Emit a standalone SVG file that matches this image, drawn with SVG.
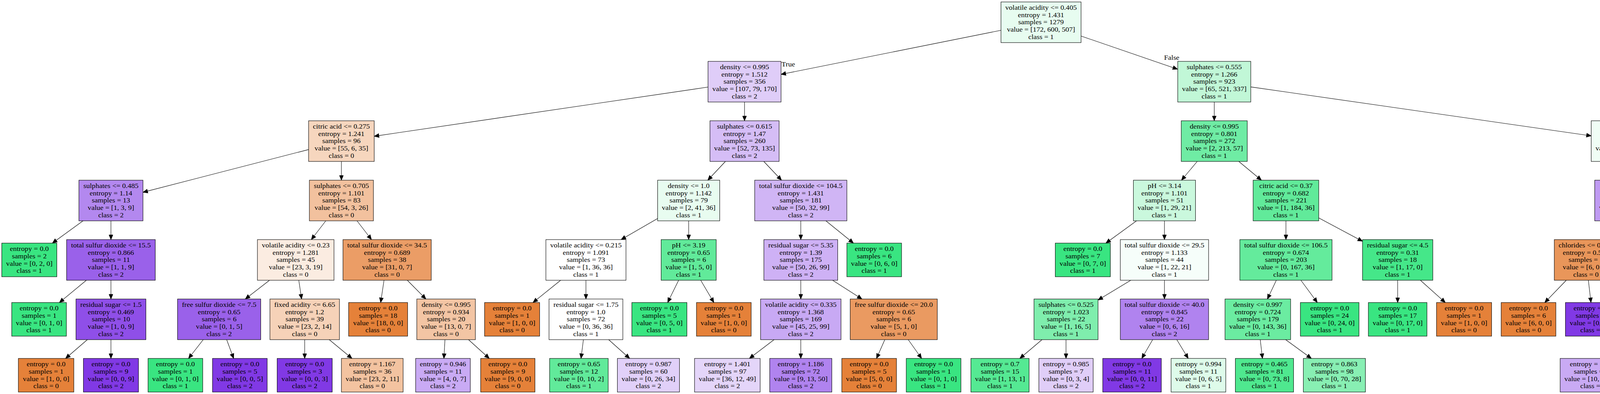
<svg xmlns="http://www.w3.org/2000/svg" width="6095" height="1008" viewBox="0 0 6095 1008">
<style>
.n rect{stroke:#000;stroke-width:1.1}
text{font-family:"Liberation Serif","Times New Roman",serif;font-size:16.3px;text-anchor:middle;fill:#000}
.e line{stroke:#000;stroke-width:1.1;marker-end:url(#ah)}
.o{fill:#e58139}.g{fill:#39e581}.p{fill:#8139e5}.w{fill:#ffffff}
</style>
<defs>
<marker id="ah" markerUnits="userSpaceOnUse" markerWidth="14" markerHeight="12" refX="12" refY="5" orient="auto" overflow="visible"><path d="M0,0L12,5L0,10z" fill="#000" stroke="#000" stroke-width="1"/></marker>
</defs>
<rect width="6095" height="1008" fill="#fff"/>
<g id="edges" class="e">
<line x1="2562.5" y1="77.5" x2="1999.5" y2="190.3"/>
<line x1="2767.5" y1="92.2" x2="3014.5" y2="176.9"/>
<line x1="1812.5" y1="222.8" x2="958" y2="348.6"/>
<line x1="1906" y1="261" x2="1906" y2="309"/>
<line x1="3108.5" y1="261" x2="3108.5" y2="309"/>
<line x1="3202" y1="222.4" x2="4073.5" y2="347.6"/>
<line x1="790" y1="382.6" x2="366" y2="491.9"/>
<line x1="874" y1="413" x2="874" y2="461"/>
<line x1="1857.1" y1="413" x2="1811.9" y2="461"/>
<line x1="1955.3" y1="413" x2="2000.7" y2="461"/>
<line x1="3064.9" y1="413" x2="3024.6" y2="461"/>
<line x1="3171.3" y1="413" x2="3229.2" y2="461"/>
<line x1="4167" y1="413" x2="4167" y2="461"/>
<line x1="4260.5" y1="377.2" x2="4929" y2="493.4"/>
<line x1="212.5" y1="565" x2="134.1" y2="622"/>
<line x1="284" y1="565" x2="284" y2="613"/>
<line x1="834" y1="565" x2="797" y2="613"/>
<line x1="914" y1="565" x2="951" y2="613"/>
<line x1="1683.5" y1="559" x2="1590" y2="613"/>
<line x1="1763" y1="565" x2="1763" y2="613"/>
<line x1="2050" y1="565" x2="2050" y2="613"/>
<line x1="2114.3" y1="565" x2="2184.8" y2="622"/>
<line x1="2909.5" y1="565" x2="2831.1" y2="622"/>
<line x1="2981" y1="565" x2="2981" y2="613"/>
<line x1="3292" y1="565" x2="3292" y2="613"/>
<line x1="3376" y1="557.6" x2="3488" y2="617.2"/>
<line x1="4130.4" y1="565" x2="4096.6" y2="613"/>
<line x1="4204.3" y1="565" x2="4238.7" y2="613"/>
<line x1="5042" y1="565" x2="5042" y2="613"/>
<line x1="5155" y1="544.6" x2="5468.5" y2="632.2"/>
<line x1="221.1" y1="717" x2="152.1" y2="774"/>
<line x1="284" y1="717" x2="284" y2="765"/>
<line x1="690" y1="717" x2="628" y2="765"/>
<line x1="764.9" y1="717" x2="772.1" y2="765"/>
<line x1="983.1" y1="717" x2="974.5" y2="774"/>
<line x1="1042.7" y1="717" x2="1090.3" y2="765"/>
<line x1="1435.3" y1="717" x2="1364.5" y2="774"/>
<line x1="1500" y1="717" x2="1500" y2="765"/>
<line x1="1737.3" y1="717" x2="1709.2" y2="774"/>
<line x1="1793.8" y1="717" x2="1827.5" y2="774"/>
<line x1="2050" y1="717" x2="2050" y2="765"/>
<line x1="2131.4" y1="717" x2="2206.6" y2="765"/>
<line x1="2894.8" y1="717" x2="2811" y2="767.6"/>
<line x1="2981" y1="717" x2="2981" y2="765"/>
<line x1="3267.4" y1="717" x2="3244.6" y2="765"/>
<line x1="3330.3" y1="717" x2="3372.3" y2="774"/>
<line x1="3578" y1="717" x2="3578" y2="774"/>
<line x1="3636.2" y1="717" x2="3699.9" y2="774"/>
<line x1="4009.7" y1="717" x2="3954.6" y2="774"/>
<line x1="4066.2" y1="717" x2="4072.9" y2="774"/>
<line x1="4269.5" y1="717" x2="4263.5" y2="765"/>
<line x1="4334.2" y1="717" x2="4387.8" y2="765"/>
<line x1="5008.1" y1="717" x2="4976.9" y2="765"/>
<line x1="5075.9" y1="717" x2="5107.1" y2="765"/>
<line x1="5586" y1="717" x2="5586" y2="765"/>
<line x1="5676.3" y1="717" x2="5772.5" y2="772.4"/>
<line x1="223.6" y1="869" x2="167.9" y2="917"/>
<line x1="284" y1="869" x2="284" y2="917"/>
<line x1="520.3" y1="869" x2="482.7" y2="917"/>
<line x1="580.3" y1="869" x2="598.1" y2="917"/>
<line x1="780" y1="869" x2="780" y2="917"/>
<line x1="842.9" y1="869" x2="901" y2="917"/>
<line x1="1139.1" y1="869" x2="1136.4" y2="917"/>
<line x1="1199.4" y1="869" x2="1252.5" y2="917"/>
<line x1="1493.5" y1="869" x2="1487.4" y2="917"/>
<line x1="1558.2" y1="869" x2="1611.9" y2="917"/>
<line x1="1981.6" y1="869" x2="1918.5" y2="917"/>
<line x1="2050" y1="869" x2="2050" y2="917"/>
<line x1="2265.1" y1="869" x2="2243.9" y2="917"/>
<line x1="2325.1" y1="869" x2="2359.3" y2="917"/>
<line x1="2667.5" y1="869" x2="2610.8" y2="917"/>
<line x1="2729" y1="869" x2="2729" y2="917"/>
<line x1="2950.8" y1="869" x2="2923" y2="917"/>
<line x1="3012.6" y1="869" x2="3041.8" y2="917"/>
<line x1="3226.2" y1="869" x2="3231.9" y2="917"/>
<line x1="3291.3" y1="869" x2="3357.1" y2="917"/>
<line x1="4191.9" y1="869" x2="4131.8" y2="917"/>
<line x1="4257" y1="869" x2="4257" y2="917"/>
<line x1="4437.3" y1="869" x2="4429.2" y2="917"/>
<line x1="4498.7" y1="869" x2="4547.4" y2="917"/>
<line x1="4878.6" y1="869" x2="4819.2" y2="917"/>
<line x1="4945.5" y1="869" x2="4947.9" y2="917"/>
<line x1="5138.5" y1="869" x2="5136.1" y2="917"/>
<line x1="5205.4" y1="869" x2="5264.8" y2="917"/>
<line x1="5556.9" y1="869" x2="5530.1" y2="917"/>
<line x1="5620.5" y1="869" x2="5652.4" y2="917"/>
<line x1="5850" y1="869" x2="5850" y2="917"/>
<line x1="5911.4" y1="869" x2="5968.2" y2="917"/>
<text transform="translate(2018,169.5) scale(1.14,1)">True</text>
<text transform="translate(2999.5,153) scale(1.14,1)">False</text>
</g>
<g id="n0" class="n" transform="translate(2665,57)"><rect x="-102.5" y="-52" width="205" height="104" fill="#e7fcf0"/><text transform="scale(1.14,1)"><tspan x="0" y="-32">volatile acidity &lt;= 0.405</tspan><tspan x="0" dy="18.7">entropy = 1.431</tspan><tspan x="0" dy="18.7">samples = 1279</tspan><tspan x="0" dy="18.7">value = [172, 600, 507]</tspan><tspan x="0" dy="18.7">class = 1</tspan></text></g>
<g id="n1" class="n" transform="translate(1906,209)"><rect x="-93.5" y="-52" width="187" height="104" fill="#dfcdf8"/><text transform="scale(1.14,1)"><tspan x="0" y="-32">density &lt;= 0.995</tspan><tspan x="0" dy="18.7">entropy = 1.512</tspan><tspan x="0" dy="18.7">samples = 356</tspan><tspan x="0" dy="18.7">value = [107, 79, 170]</tspan><tspan x="0" dy="18.7">class = 2</tspan></text></g>
<g id="n2" class="n" transform="translate(3108.5,209)"><rect x="-93.5" y="-52" width="187" height="104" fill="#c1f7d7"/><text transform="scale(1.14,1)"><tspan x="0" y="-32">sulphates &lt;= 0.555</tspan><tspan x="0" dy="18.7">entropy = 1.266</tspan><tspan x="0" dy="18.7">samples = 923</tspan><tspan x="0" dy="18.7">value = [65, 521, 337]</tspan><tspan x="0" dy="18.7">class = 1</tspan></text></g>
<g id="n3" class="n" transform="translate(874,361)"><rect x="-84" y="-52" width="168" height="104" fill="#f6d6be"/><text transform="scale(1.14,1)"><tspan x="0" y="-32">citric acid &lt;= 0.275</tspan><tspan x="0" dy="18.7">entropy = 1.241</tspan><tspan x="0" dy="18.7">samples = 96</tspan><tspan x="0" dy="18.7">value = [55, 6, 35]</tspan><tspan x="0" dy="18.7">class = 0</tspan></text></g>
<g id="n4" class="n" transform="translate(1906,361)"><rect x="-88.5" y="-52" width="177" height="104" fill="#d5bdf6"/><text transform="scale(1.14,1)"><tspan x="0" y="-32">sulphates &lt;= 0.615</tspan><tspan x="0" dy="18.7">entropy = 1.47</tspan><tspan x="0" dy="18.7">samples = 260</tspan><tspan x="0" dy="18.7">value = [52, 73, 135]</tspan><tspan x="0" dy="18.7">class = 2</tspan></text></g>
<g id="n5" class="n" transform="translate(3108.5,361)"><rect x="-84.5" y="-52" width="169" height="104" fill="#6feca4"/><text transform="scale(1.14,1)"><tspan x="0" y="-32">density &lt;= 0.995</tspan><tspan x="0" dy="18.7">entropy = 0.801</tspan><tspan x="0" dy="18.7">samples = 272</tspan><tspan x="0" dy="18.7">value = [2, 213, 57]</tspan><tspan x="0" dy="18.7">class = 1</tspan></text></g>
<g id="n6" class="n" transform="translate(4167,361)"><rect x="-93.5" y="-52" width="187" height="104" fill="#f0fdf5"/><text transform="scale(1.14,1)"><tspan x="0" y="-32">density &lt;= 0.996</tspan><tspan x="0" dy="18.7">entropy = 1.36</tspan><tspan x="0" dy="18.7">samples = 651</tspan><tspan x="0" dy="18.7">value = [63, 308, 280]</tspan><tspan x="0" dy="18.7">class = 1</tspan></text></g>
<g id="n7" class="n" transform="translate(284,513)"><rect x="-82" y="-52" width="164" height="104" fill="#b388ef"/><text transform="scale(1.14,1)"><tspan x="0" y="-32">sulphates &lt;= 0.485</tspan><tspan x="0" dy="18.7">entropy = 1.14</tspan><tspan x="0" dy="18.7">samples = 13</tspan><tspan x="0" dy="18.7">value = [1, 3, 9]</tspan><tspan x="0" dy="18.7">class = 2</tspan></text></g>
<g id="n8" class="n" transform="translate(874,513)"><rect x="-82" y="-52" width="164" height="104" fill="#f2c19e"/><text transform="scale(1.14,1)"><tspan x="0" y="-32">sulphates &lt;= 0.705</tspan><tspan x="0" dy="18.7">entropy = 1.101</tspan><tspan x="0" dy="18.7">samples = 83</tspan><tspan x="0" dy="18.7">value = [54, 3, 26]</tspan><tspan x="0" dy="18.7">class = 0</tspan></text></g>
<g id="n9" class="n" transform="translate(1763,513)"><rect x="-79.5" y="-52" width="159" height="104" fill="#e8fcf0"/><text transform="scale(1.14,1)"><tspan x="0" y="-32">density &lt;= 1.0</tspan><tspan x="0" dy="18.7">entropy = 1.142</tspan><tspan x="0" dy="18.7">samples = 79</tspan><tspan x="0" dy="18.7">value = [2, 41, 36]</tspan><tspan x="0" dy="18.7">class = 1</tspan></text></g>
<g id="n10" class="n" transform="translate(2050,513)"><rect x="-118" y="-52" width="236" height="104" fill="#d0b5f5"/><text transform="scale(1.14,1)"><tspan x="0" y="-32">total sulfur dioxide &lt;= 104.5</tspan><tspan x="0" dy="18.7">entropy = 1.431</tspan><tspan x="0" dy="18.7">samples = 181</tspan><tspan x="0" dy="18.7">value = [50, 32, 99]</tspan><tspan x="0" dy="18.7">class = 2</tspan></text></g>
<g id="n11" class="n" transform="translate(2981,513)"><rect x="-79.5" y="-52" width="159" height="104" fill="#caf8dd"/><text transform="scale(1.14,1)"><tspan x="0" y="-32">pH &lt;= 3.14</tspan><tspan x="0" dy="18.7">entropy = 1.101</tspan><tspan x="0" dy="18.7">samples = 51</tspan><tspan x="0" dy="18.7">value = [1, 29, 21]</tspan><tspan x="0" dy="18.7">class = 1</tspan></text></g>
<g id="n12" class="n" transform="translate(3292,513)"><rect x="-84" y="-52" width="168" height="104" fill="#61ea9a"/><text transform="scale(1.14,1)"><tspan x="0" y="-32">citric acid &lt;= 0.37</tspan><tspan x="0" dy="18.7">entropy = 0.682</tspan><tspan x="0" dy="18.7">samples = 221</tspan><tspan x="0" dy="18.7">value = [1, 184, 36]</tspan><tspan x="0" dy="18.7">class = 1</tspan></text></g>
<g id="n13" class="n" transform="translate(4167,513)"><rect x="-84.5" y="-52" width="169" height="104" fill="#bf9af2"/><text transform="scale(1.14,1)"><tspan x="0" y="-32">density &lt;= 0.992</tspan><tspan x="0" dy="18.7">entropy = 1.347</tspan><tspan x="0" dy="18.7">samples = 137</tspan><tspan x="0" dy="18.7">value = [24, 29, 84]</tspan><tspan x="0" dy="18.7">class = 2</tspan></text></g>
<g id="n14" class="n" transform="translate(5042,513)"><rect x="-113" y="-52" width="226" height="104" fill="#cbf8de"/><text transform="scale(1.14,1)"><tspan x="0" y="-32">total sulfur dioxide &lt;= 81.5</tspan><tspan x="0" dy="18.7">entropy = 1.291</tspan><tspan x="0" dy="18.7">samples = 514</tspan><tspan x="0" dy="18.7">value = [39, 279, 196]</tspan><tspan x="0" dy="18.7">class = 1</tspan></text></g>
<g id="n15" class="n" transform="translate(75,665)"><rect x="-70.5" y="-43" width="141" height="86" class="g"/><text transform="scale(1.14,1)"><tspan x="0" y="-22.7">entropy = 0.0</tspan><tspan x="0" dy="18.7">samples = 2</tspan><tspan x="0" dy="18.7">value = [0, 2, 0]</tspan><tspan x="0" dy="18.7">class = 1</tspan></text></g>
<g id="n16" class="n" transform="translate(284,665)"><rect x="-113.5" y="-52" width="227" height="104" fill="#9a61ea"/><text transform="scale(1.14,1)"><tspan x="0" y="-32">total sulfur dioxide &lt;= 15.5</tspan><tspan x="0" dy="18.7">entropy = 0.866</tspan><tspan x="0" dy="18.7">samples = 11</tspan><tspan x="0" dy="18.7">value = [1, 1, 9]</tspan><tspan x="0" dy="18.7">class = 2</tspan></text></g>
<g id="n17" class="n" transform="translate(757,665)"><rect x="-98" y="-52" width="196" height="104" fill="#fbece1"/><text transform="scale(1.14,1)"><tspan x="0" y="-32">volatile acidity &lt;= 0.23</tspan><tspan x="0" dy="18.7">entropy = 1.281</tspan><tspan x="0" dy="18.7">samples = 45</tspan><tspan x="0" dy="18.7">value = [23, 3, 19]</tspan><tspan x="0" dy="18.7">class = 0</tspan></text></g>
<g id="n18" class="n" transform="translate(991,665)"><rect x="-113" y="-52" width="226" height="104" fill="#eb9d66"/><text transform="scale(1.14,1)"><tspan x="0" y="-32">total sulfur dioxide &lt;= 34.5</tspan><tspan x="0" dy="18.7">entropy = 0.689</tspan><tspan x="0" dy="18.7">samples = 38</tspan><tspan x="0" dy="18.7">value = [31, 0, 7]</tspan><tspan x="0" dy="18.7">class = 0</tspan></text></g>
<g id="n19" class="n" transform="translate(1500,665)"><rect x="-102.5" y="-52" width="205" height="104" class="w"/><text transform="scale(1.14,1)"><tspan x="0" y="-32">volatile acidity &lt;= 0.215</tspan><tspan x="0" dy="18.7">entropy = 1.091</tspan><tspan x="0" dy="18.7">samples = 73</tspan><tspan x="0" dy="18.7">value = [1, 36, 36]</tspan><tspan x="0" dy="18.7">class = 1</tspan></text></g>
<g id="n20" class="n" transform="translate(1763,665)"><rect x="-70.5" y="-52" width="141" height="104" fill="#61ea9a"/><text transform="scale(1.14,1)"><tspan x="0" y="-32">pH &lt;= 3.19</tspan><tspan x="0" dy="18.7">entropy = 0.65</tspan><tspan x="0" dy="18.7">samples = 6</tspan><tspan x="0" dy="18.7">value = [1, 5, 0]</tspan><tspan x="0" dy="18.7">class = 1</tspan></text></g>
<g id="n21" class="n" transform="translate(2050,665)"><rect x="-94.5" y="-52" width="189" height="104" fill="#ceb1f5"/><text transform="scale(1.14,1)"><tspan x="0" y="-32">residual sugar &lt;= 5.35</tspan><tspan x="0" dy="18.7">entropy = 1.39</tspan><tspan x="0" dy="18.7">samples = 175</tspan><tspan x="0" dy="18.7">value = [50, 26, 99]</tspan><tspan x="0" dy="18.7">class = 2</tspan></text></g>
<g id="n22" class="n" transform="translate(2238,665)"><rect x="-70" y="-43" width="140" height="86" class="g"/><text transform="scale(1.14,1)"><tspan x="0" y="-22.7">entropy = 0.0</tspan><tspan x="0" dy="18.7">samples = 6</tspan><tspan x="0" dy="18.7">value = [0, 6, 0]</tspan><tspan x="0" dy="18.7">class = 1</tspan></text></g>
<g id="n23" class="n" transform="translate(2772,665)"><rect x="-70.5" y="-43" width="141" height="86" class="g"/><text transform="scale(1.14,1)"><tspan x="0" y="-22.7">entropy = 0.0</tspan><tspan x="0" dy="18.7">samples = 7</tspan><tspan x="0" dy="18.7">value = [0, 7, 0]</tspan><tspan x="0" dy="18.7">class = 1</tspan></text></g>
<g id="n24" class="n" transform="translate(2981,665)"><rect x="-113" y="-52" width="226" height="104" fill="#f6fefa"/><text transform="scale(1.14,1)"><tspan x="0" y="-32">total sulfur dioxide &lt;= 29.5</tspan><tspan x="0" dy="18.7">entropy = 1.133</tspan><tspan x="0" dy="18.7">samples = 44</tspan><tspan x="0" dy="18.7">value = [1, 22, 21]</tspan><tspan x="0" dy="18.7">class = 1</tspan></text></g>
<g id="n25" class="n" transform="translate(3292,665)"><rect x="-118" y="-52" width="236" height="104" fill="#64eb9c"/><text transform="scale(1.14,1)"><tspan x="0" y="-32">total sulfur dioxide &lt;= 106.5</tspan><tspan x="0" dy="18.7">entropy = 0.674</tspan><tspan x="0" dy="18.7">samples = 203</tspan><tspan x="0" dy="18.7">value = [0, 167, 36]</tspan><tspan x="0" dy="18.7">class = 1</tspan></text></g>
<g id="n26" class="n" transform="translate(3578,665)"><rect x="-90" y="-52" width="180" height="104" fill="#45e789"/><text transform="scale(1.14,1)"><tspan x="0" y="-32">residual sugar &lt;= 4.5</tspan><tspan x="0" dy="18.7">entropy = 0.31</tspan><tspan x="0" dy="18.7">samples = 18</tspan><tspan x="0" dy="18.7">value = [1, 17, 0]</tspan><tspan x="0" dy="18.7">class = 1</tspan></text></g>
<g id="n27" class="n" transform="translate(4060,665)"><rect x="-81" y="-52" width="162" height="104" fill="#e9965a"/><text transform="scale(1.14,1)"><tspan x="0" y="-32">chlorides &lt;= 0.061</tspan><tspan x="0" dy="18.7">entropy = 0.592</tspan><tspan x="0" dy="18.7">samples = 7</tspan><tspan x="0" dy="18.7">value = [6, 0, 1]</tspan><tspan x="0" dy="18.7">class = 0</tspan></text></g>
<g id="n28" class="n" transform="translate(4276,665)"><rect x="-111" y="-52" width="222" height="104" fill="#bc95f1"/><text transform="scale(1.14,1)"><tspan x="0" y="-32">free sulfur dioxide &lt;= 14.5</tspan><tspan x="0" dy="18.7">entropy = 1.291</tspan><tspan x="0" dy="18.7">samples = 130</tspan><tspan x="0" dy="18.7">value = [18, 29, 83]</tspan><tspan x="0" dy="18.7">class = 2</tspan></text></g>
<g id="n29" class="n" transform="translate(5042,665)"><rect x="-94.5" y="-52" width="189" height="104" fill="#ecfdf3"/><text transform="scale(1.14,1)"><tspan x="0" y="-32">residual sugar &lt;= 2.35</tspan><tspan x="0" dy="18.7">entropy = 1.352</tspan><tspan x="0" dy="18.7">samples = 418</tspan><tspan x="0" dy="18.7">value = [39, 201, 178]</tspan><tspan x="0" dy="18.7">class = 1</tspan></text></g>
<g id="n30" class="n" transform="translate(5586,665)"><rect x="-117.5" y="-52" width="235" height="104" fill="#67eb9e"/><text transform="scale(1.14,1)"><tspan x="0" y="-32">total sulfur dioxide &lt;= 105.5</tspan><tspan x="0" dy="18.7">entropy = 0.696</tspan><tspan x="0" dy="18.7">samples = 96</tspan><tspan x="0" dy="18.7">value = [0, 78, 18]</tspan><tspan x="0" dy="18.7">class = 1</tspan></text></g>
<g id="n31" class="n" transform="translate(100,817)"><rect x="-70" y="-43" width="140" height="86" class="g"/><text transform="scale(1.14,1)"><tspan x="0" y="-22.7">entropy = 0.0</tspan><tspan x="0" dy="18.7">samples = 1</tspan><tspan x="0" dy="18.7">value = [0, 1, 0]</tspan><tspan x="0" dy="18.7">class = 1</tspan></text></g>
<g id="n32" class="n" transform="translate(284,817)"><rect x="-89.5" y="-52" width="179" height="104" fill="#8f4fe8"/><text transform="scale(1.14,1)"><tspan x="0" y="-32">residual sugar &lt;= 1.5</tspan><tspan x="0" dy="18.7">entropy = 0.469</tspan><tspan x="0" dy="18.7">samples = 10</tspan><tspan x="0" dy="18.7">value = [1, 0, 9]</tspan><tspan x="0" dy="18.7">class = 2</tspan></text></g>
<g id="n33" class="n" transform="translate(561,817)"><rect x="-106.5" y="-52" width="213" height="104" fill="#9a61ea"/><text transform="scale(1.14,1)"><tspan x="0" y="-32">free sulfur dioxide &lt;= 7.5</tspan><tspan x="0" dy="18.7">entropy = 0.65</tspan><tspan x="0" dy="18.7">samples = 6</tspan><tspan x="0" dy="18.7">value = [0, 1, 5]</tspan><tspan x="0" dy="18.7">class = 2</tspan></text></g>
<g id="n34" class="n" transform="translate(780,817)"><rect x="-89" y="-52" width="178" height="104" fill="#f6d2b8"/><text transform="scale(1.14,1)"><tspan x="0" y="-32">fixed acidity &lt;= 6.65</tspan><tspan x="0" dy="18.7">entropy = 1.2</tspan><tspan x="0" dy="18.7">samples = 39</tspan><tspan x="0" dy="18.7">value = [23, 2, 14]</tspan><tspan x="0" dy="18.7">class = 0</tspan></text></g>
<g id="n35" class="n" transform="translate(968,817)"><rect x="-75.5" y="-43" width="151" height="86" class="o"/><text transform="scale(1.14,1)"><tspan x="0" y="-22.7">entropy = 0.0</tspan><tspan x="0" dy="18.7">samples = 18</tspan><tspan x="0" dy="18.7">value = [18, 0, 0]</tspan><tspan x="0" dy="18.7">class = 0</tspan></text></g>
<g id="n36" class="n" transform="translate(1142,817)"><rect x="-75" y="-52" width="150" height="104" fill="#f3c5a4"/><text transform="scale(1.14,1)"><tspan x="0" y="-32">density &lt;= 0.995</tspan><tspan x="0" dy="18.7">entropy = 0.934</tspan><tspan x="0" dy="18.7">samples = 20</tspan><tspan x="0" dy="18.7">value = [13, 0, 7]</tspan><tspan x="0" dy="18.7">class = 0</tspan></text></g>
<g id="n37" class="n" transform="translate(1311,817)"><rect x="-70.5" y="-43" width="141" height="86" class="o"/><text transform="scale(1.14,1)"><tspan x="0" y="-22.7">entropy = 0.0</tspan><tspan x="0" dy="18.7">samples = 1</tspan><tspan x="0" dy="18.7">value = [1, 0, 0]</tspan><tspan x="0" dy="18.7">class = 0</tspan></text></g>
<g id="n38" class="n" transform="translate(1500,817)"><rect x="-94.5" y="-52" width="189" height="104" class="w"/><text transform="scale(1.14,1)"><tspan x="0" y="-32">residual sugar &lt;= 1.75</tspan><tspan x="0" dy="18.7">entropy = 1.0</tspan><tspan x="0" dy="18.7">samples = 72</tspan><tspan x="0" dy="18.7">value = [0, 36, 36]</tspan><tspan x="0" dy="18.7">class = 1</tspan></text></g>
<g id="n39" class="n" transform="translate(1688,817)"><rect x="-70.5" y="-43" width="141" height="86" class="g"/><text transform="scale(1.14,1)"><tspan x="0" y="-22.7">entropy = 0.0</tspan><tspan x="0" dy="18.7">samples = 5</tspan><tspan x="0" dy="18.7">value = [0, 5, 0]</tspan><tspan x="0" dy="18.7">class = 1</tspan></text></g>
<g id="n40" class="n" transform="translate(1853,817)"><rect x="-70" y="-43" width="140" height="86" class="o"/><text transform="scale(1.14,1)"><tspan x="0" y="-22.7">entropy = 0.0</tspan><tspan x="0" dy="18.7">samples = 1</tspan><tspan x="0" dy="18.7">value = [1, 0, 0]</tspan><tspan x="0" dy="18.7">class = 0</tspan></text></g>
<g id="n41" class="n" transform="translate(2050,817)"><rect x="-103" y="-52" width="206" height="104" fill="#c8a9f4"/><text transform="scale(1.14,1)"><tspan x="0" y="-32">volatile acidity &lt;= 0.335</tspan><tspan x="0" dy="18.7">entropy = 1.368</tspan><tspan x="0" dy="18.7">samples = 169</tspan><tspan x="0" dy="18.7">value = [45, 25, 99]</tspan><tspan x="0" dy="18.7">class = 2</tspan></text></g>
<g id="n42" class="n" transform="translate(2288,817)"><rect x="-111.5" y="-52" width="223" height="104" fill="#ea9a61"/><text transform="scale(1.14,1)"><tspan x="0" y="-32">free sulfur dioxide &lt;= 20.0</tspan><tspan x="0" dy="18.7">entropy = 0.65</tspan><tspan x="0" dy="18.7">samples = 6</tspan><tspan x="0" dy="18.7">value = [5, 1, 0]</tspan><tspan x="0" dy="18.7">class = 0</tspan></text></g>
<g id="n43" class="n" transform="translate(2729,817)"><rect x="-82" y="-52" width="164" height="104" fill="#7feead"/><text transform="scale(1.14,1)"><tspan x="0" y="-32">sulphates &lt;= 0.525</tspan><tspan x="0" dy="18.7">entropy = 1.023</tspan><tspan x="0" dy="18.7">samples = 22</tspan><tspan x="0" dy="18.7">value = [1, 16, 5]</tspan><tspan x="0" dy="18.7">class = 1</tspan></text></g>
<g id="n44" class="n" transform="translate(2981,817)"><rect x="-113" y="-52" width="226" height="104" fill="#b083ef"/><text transform="scale(1.14,1)"><tspan x="0" y="-32">total sulfur dioxide &lt;= 40.0</tspan><tspan x="0" dy="18.7">entropy = 0.845</tspan><tspan x="0" dy="18.7">samples = 22</tspan><tspan x="0" dy="18.7">value = [0, 6, 16]</tspan><tspan x="0" dy="18.7">class = 2</tspan></text></g>
<g id="n45" class="n" transform="translate(3220,817)"><rect x="-84" y="-52" width="168" height="104" fill="#6beca1"/><text transform="scale(1.14,1)"><tspan x="0" y="-32">density &lt;= 0.997</tspan><tspan x="0" dy="18.7">entropy = 0.724</tspan><tspan x="0" dy="18.7">samples = 179</tspan><tspan x="0" dy="18.7">value = [0, 143, 36]</tspan><tspan x="0" dy="18.7">class = 1</tspan></text></g>
<g id="n46" class="n" transform="translate(3404,817)"><rect x="-75" y="-43" width="150" height="86" class="g"/><text transform="scale(1.14,1)"><tspan x="0" y="-22.7">entropy = 0.0</tspan><tspan x="0" dy="18.7">samples = 24</tspan><tspan x="0" dy="18.7">value = [0, 24, 0]</tspan><tspan x="0" dy="18.7">class = 1</tspan></text></g>
<g id="n47" class="n" transform="translate(3578,817)"><rect x="-75" y="-43" width="150" height="86" class="g"/><text transform="scale(1.14,1)"><tspan x="0" y="-22.7">entropy = 0.0</tspan><tspan x="0" dy="18.7">samples = 17</tspan><tspan x="0" dy="18.7">value = [0, 17, 0]</tspan><tspan x="0" dy="18.7">class = 1</tspan></text></g>
<g id="n48" class="n" transform="translate(3748,817)"><rect x="-70.5" y="-43" width="141" height="86" class="o"/><text transform="scale(1.14,1)"><tspan x="0" y="-22.7">entropy = 0.0</tspan><tspan x="0" dy="18.7">samples = 1</tspan><tspan x="0" dy="18.7">value = [1, 0, 0]</tspan><tspan x="0" dy="18.7">class = 0</tspan></text></g>
<g id="n49" class="n" transform="translate(3913,817)"><rect x="-70" y="-43" width="140" height="86" class="o"/><text transform="scale(1.14,1)"><tspan x="0" y="-22.7">entropy = 0.0</tspan><tspan x="0" dy="18.7">samples = 6</tspan><tspan x="0" dy="18.7">value = [6, 0, 0]</tspan><tspan x="0" dy="18.7">class = 0</tspan></text></g>
<g id="n50" class="n" transform="translate(4078,817)"><rect x="-70.5" y="-43" width="141" height="86" class="p"/><text transform="scale(1.14,1)"><tspan x="0" y="-22.7">entropy = 0.0</tspan><tspan x="0" dy="18.7">samples = 1</tspan><tspan x="0" dy="18.7">value = [0, 0, 1]</tspan><tspan x="0" dy="18.7">class = 2</tspan></text></g>
<g id="n51" class="n" transform="translate(4257,817)"><rect x="-84" y="-52" width="168" height="104" fill="#e4d4f9"/><text transform="scale(1.14,1)"><tspan x="0" y="-32">pH &lt;= 3.515</tspan><tspan x="0" dy="18.7">entropy = 1.522</tspan><tspan x="0" dy="18.7">samples = 54</tspan><tspan x="0" dy="18.7">value = [12, 17, 25]</tspan><tspan x="0" dy="18.7">class = 2</tspan></text></g>
<g id="n52" class="n" transform="translate(4446,817)"><rect x="-81" y="-52" width="162" height="104" fill="#a471ec"/><text transform="scale(1.14,1)"><tspan x="0" y="-32">chlorides &lt;= 0.055</tspan><tspan x="0" dy="18.7">entropy = 1.007</tspan><tspan x="0" dy="18.7">samples = 76</tspan><tspan x="0" dy="18.7">value = [6, 12, 58]</tspan><tspan x="0" dy="18.7">class = 2</tspan></text></g>
<g id="n53" class="n" transform="translate(4943,817)"><rect x="-88.5" y="-52" width="177" height="104" fill="#c3f7d9"/><text transform="scale(1.14,1)"><tspan x="0" y="-32">fixed acidity &lt;= 6.95</tspan><tspan x="0" dy="18.7">entropy = 1.171</tspan><tspan x="0" dy="18.7">samples = 234</tspan><tspan x="0" dy="18.7">value = [9, 134, 91]</tspan><tspan x="0" dy="18.7">class = 1</tspan></text></g>
<g id="n54" class="n" transform="translate(5141,817)"><rect x="-84.5" y="-52" width="169" height="104" fill="#e9ddfb"/><text transform="scale(1.14,1)"><tspan x="0" y="-32">sulphates &lt;= 0.585</tspan><tspan x="0" dy="18.7">entropy = 1.468</tspan><tspan x="0" dy="18.7">samples = 184</tspan><tspan x="0" dy="18.7">value = [30, 67, 87]</tspan><tspan x="0" dy="18.7">class = 2</tspan></text></g>
<g id="n55" class="n" transform="translate(5586,817)"><rect x="-81.5" y="-52" width="163" height="104" fill="#8ff0b7"/><text transform="scale(1.14,1)"><tspan x="0" y="-32">sulphates &lt;= 0.975</tspan><tspan x="0" dy="18.7">entropy = 0.884</tspan><tspan x="0" dy="18.7">samples = 53</tspan><tspan x="0" dy="18.7">value = [0, 37, 16]</tspan><tspan x="0" dy="18.7">class = 1</tspan></text></g>
<g id="n56" class="n" transform="translate(5850,817)"><rect x="-77.5" y="-52" width="155" height="104" fill="#43e687"/><text transform="scale(1.14,1)"><tspan x="0" y="-32">sulphates &lt;= 1.56</tspan><tspan x="0" dy="18.7">entropy = 0.271</tspan><tspan x="0" dy="18.7">samples = 43</tspan><tspan x="0" dy="18.7">value = [0, 41, 2]</tspan><tspan x="0" dy="18.7">class = 1</tspan></text></g>
<g id="n57" class="n" transform="translate(118,960)"><rect x="-71" y="-43" width="142" height="86" class="o"/><text transform="scale(1.14,1)"><tspan x="0" y="-22.7">entropy = 0.0</tspan><tspan x="0" dy="18.7">samples = 1</tspan><tspan x="0" dy="18.7">value = [1, 0, 0]</tspan><tspan x="0" dy="18.7">class = 0</tspan></text></g>
<g id="n58" class="n" transform="translate(284,960)"><rect x="-70.5" y="-43" width="141" height="86" class="p"/><text transform="scale(1.14,1)"><tspan x="0" y="-22.7">entropy = 0.0</tspan><tspan x="0" dy="18.7">samples = 9</tspan><tspan x="0" dy="18.7">value = [0, 0, 9]</tspan><tspan x="0" dy="18.7">class = 2</tspan></text></g>
<g id="n59" class="n" transform="translate(449,960)"><rect x="-70" y="-43" width="140" height="86" class="g"/><text transform="scale(1.14,1)"><tspan x="0" y="-22.7">entropy = 0.0</tspan><tspan x="0" dy="18.7">samples = 1</tspan><tspan x="0" dy="18.7">value = [0, 1, 0]</tspan><tspan x="0" dy="18.7">class = 1</tspan></text></g>
<g id="n60" class="n" transform="translate(614,960)"><rect x="-70" y="-43" width="140" height="86" class="p"/><text transform="scale(1.14,1)"><tspan x="0" y="-22.7">entropy = 0.0</tspan><tspan x="0" dy="18.7">samples = 5</tspan><tspan x="0" dy="18.7">value = [0, 0, 5]</tspan><tspan x="0" dy="18.7">class = 2</tspan></text></g>
<g id="n61" class="n" transform="translate(780,960)"><rect x="-70.5" y="-43" width="141" height="86" class="p"/><text transform="scale(1.14,1)"><tspan x="0" y="-22.7">entropy = 0.0</tspan><tspan x="0" dy="18.7">samples = 3</tspan><tspan x="0" dy="18.7">value = [0, 0, 3]</tspan><tspan x="0" dy="18.7">class = 2</tspan></text></g>
<g id="n62" class="n" transform="translate(953,960)"><rect x="-79" y="-43" width="158" height="86" fill="#f3c3a0"/><text transform="scale(1.14,1)"><tspan x="0" y="-22.7">entropy = 1.167</tspan><tspan x="0" dy="18.7">samples = 36</tspan><tspan x="0" dy="18.7">value = [23, 2, 11]</tspan><tspan x="0" dy="18.7">class = 0</tspan></text></g>
<g id="n63" class="n" transform="translate(1134,960)"><rect x="-70" y="-43" width="140" height="86" fill="#c9aaf4"/><text transform="scale(1.14,1)"><tspan x="0" y="-22.7">entropy = 0.946</tspan><tspan x="0" dy="18.7">samples = 11</tspan><tspan x="0" dy="18.7">value = [4, 0, 7]</tspan><tspan x="0" dy="18.7">class = 2</tspan></text></g>
<g id="n64" class="n" transform="translate(1300,960)"><rect x="-69.5" y="-43" width="139" height="86" class="o"/><text transform="scale(1.14,1)"><tspan x="0" y="-22.7">entropy = 0.0</tspan><tspan x="0" dy="18.7">samples = 9</tspan><tspan x="0" dy="18.7">value = [9, 0, 0]</tspan><tspan x="0" dy="18.7">class = 0</tspan></text></g>
<g id="n65" class="n" transform="translate(1482,960)"><rect x="-75" y="-43" width="150" height="86" fill="#61ea9a"/><text transform="scale(1.14,1)"><tspan x="0" y="-22.7">entropy = 0.65</tspan><tspan x="0" dy="18.7">samples = 12</tspan><tspan x="0" dy="18.7">value = [0, 10, 2]</tspan><tspan x="0" dy="18.7">class = 1</tspan></text></g>
<g id="n66" class="n" transform="translate(1660,960)"><rect x="-79.5" y="-43" width="159" height="86" fill="#e1d0f9"/><text transform="scale(1.14,1)"><tspan x="0" y="-22.7">entropy = 0.987</tspan><tspan x="0" dy="18.7">samples = 60</tspan><tspan x="0" dy="18.7">value = [0, 26, 34]</tspan><tspan x="0" dy="18.7">class = 2</tspan></text></g>
<g id="n67" class="n" transform="translate(1862,960)"><rect x="-84" y="-43" width="168" height="86" fill="#e4d5f9"/><text transform="scale(1.14,1)"><tspan x="0" y="-22.7">entropy = 1.401</tspan><tspan x="0" dy="18.7">samples = 97</tspan><tspan x="0" dy="18.7">value = [36, 12, 49]</tspan><tspan x="0" dy="18.7">class = 2</tspan></text></g>
<g id="n68" class="n" transform="translate(2050,960)"><rect x="-79.5" y="-43" width="159" height="86" fill="#b083ef"/><text transform="scale(1.14,1)"><tspan x="0" y="-22.7">entropy = 1.186</tspan><tspan x="0" dy="18.7">samples = 72</tspan><tspan x="0" dy="18.7">value = [9, 13, 50]</tspan><tspan x="0" dy="18.7">class = 2</tspan></text></g>
<g id="n69" class="n" transform="translate(2225,960)"><rect x="-70" y="-43" width="140" height="86" class="o"/><text transform="scale(1.14,1)"><tspan x="0" y="-22.7">entropy = 0.0</tspan><tspan x="0" dy="18.7">samples = 5</tspan><tspan x="0" dy="18.7">value = [5, 0, 0]</tspan><tspan x="0" dy="18.7">class = 0</tspan></text></g>
<g id="n70" class="n" transform="translate(2390,960)"><rect x="-70" y="-43" width="140" height="86" class="g"/><text transform="scale(1.14,1)"><tspan x="0" y="-22.7">entropy = 0.0</tspan><tspan x="0" dy="18.7">samples = 1</tspan><tspan x="0" dy="18.7">value = [0, 1, 0]</tspan><tspan x="0" dy="18.7">class = 1</tspan></text></g>
<g id="n71" class="n" transform="translate(2560,960)"><rect x="-74.5" y="-43" width="149" height="86" fill="#55e993"/><text transform="scale(1.14,1)"><tspan x="0" y="-22.7">entropy = 0.7</tspan><tspan x="0" dy="18.7">samples = 15</tspan><tspan x="0" dy="18.7">value = [1, 13, 1]</tspan><tspan x="0" dy="18.7">class = 1</tspan></text></g>
<g id="n72" class="n" transform="translate(2729,960)"><rect x="-69.5" y="-43" width="139" height="86" fill="#e0cef8"/><text transform="scale(1.14,1)"><tspan x="0" y="-22.7">entropy = 0.985</tspan><tspan x="0" dy="18.7">samples = 7</tspan><tspan x="0" dy="18.7">value = [0, 3, 4]</tspan><tspan x="0" dy="18.7">class = 2</tspan></text></g>
<g id="n73" class="n" transform="translate(2898,960)"><rect x="-75" y="-43" width="150" height="86" class="p"/><text transform="scale(1.14,1)"><tspan x="0" y="-22.7">entropy = 0.0</tspan><tspan x="0" dy="18.7">samples = 11</tspan><tspan x="0" dy="18.7">value = [0, 0, 11]</tspan><tspan x="0" dy="18.7">class = 2</tspan></text></g>
<g id="n74" class="n" transform="translate(3068,960)"><rect x="-70" y="-43" width="140" height="86" fill="#defbea"/><text transform="scale(1.14,1)"><tspan x="0" y="-22.7">entropy = 0.994</tspan><tspan x="0" dy="18.7">samples = 11</tspan><tspan x="0" dy="18.7">value = [0, 6, 5]</tspan><tspan x="0" dy="18.7">class = 1</tspan></text></g>
<g id="n75" class="n" transform="translate(3237,960)"><rect x="-74.5" y="-43" width="149" height="86" fill="#4fe88f"/><text transform="scale(1.14,1)"><tspan x="0" y="-22.7">entropy = 0.465</tspan><tspan x="0" dy="18.7">samples = 81</tspan><tspan x="0" dy="18.7">value = [0, 73, 8]</tspan><tspan x="0" dy="18.7">class = 1</tspan></text></g>
<g id="n76" class="n" transform="translate(3416,960)"><rect x="-79.5" y="-43" width="159" height="86" fill="#88efb3"/><text transform="scale(1.14,1)"><tspan x="0" y="-22.7">entropy = 0.863</tspan><tspan x="0" dy="18.7">samples = 98</tspan><tspan x="0" dy="18.7">value = [0, 70, 28]</tspan><tspan x="0" dy="18.7">class = 1</tspan></text></g>
<g id="n77" class="n" transform="translate(4078,960)"><rect x="-84" y="-43" width="168" height="86" fill="#c9aaf4"/><text transform="scale(1.14,1)"><tspan x="0" y="-22.7">entropy = 1.436</tspan><tspan x="0" dy="18.7">samples = 45</tspan><tspan x="0" dy="18.7">value = [10, 10, 25]</tspan><tspan x="0" dy="18.7">class = 2</tspan></text></g>
<g id="n78" class="n" transform="translate(4257,960)"><rect x="-70" y="-43" width="140" height="86" fill="#72eca5"/><text transform="scale(1.14,1)"><tspan x="0" y="-22.7">entropy = 0.764</tspan><tspan x="0" dy="18.7">samples = 9</tspan><tspan x="0" dy="18.7">value = [2, 7, 0]</tspan><tspan x="0" dy="18.7">class = 1</tspan></text></g>
<g id="n79" class="n" transform="translate(4422,960)"><rect x="-70" y="-43" width="140" height="86" fill="#b0f5cd"/><text transform="scale(1.14,1)"><tspan x="0" y="-22.7">entropy = 0.954</tspan><tspan x="0" dy="18.7">samples = 8</tspan><tspan x="0" dy="18.7">value = [0, 5, 3]</tspan><tspan x="0" dy="18.7">class = 1</tspan></text></g>
<g id="n80" class="n" transform="translate(4591,960)"><rect x="-75" y="-43" width="150" height="86" fill="#9c63eb"/><text transform="scale(1.14,1)"><tspan x="0" y="-22.7">entropy = 0.894</tspan><tspan x="0" dy="18.7">samples = 68</tspan><tspan x="0" dy="18.7">value = [6, 7, 55]</tspan><tspan x="0" dy="18.7">class = 2</tspan></text></g>
<g id="n81" class="n" transform="translate(4766,960)"><rect x="-75" y="-43" width="150" height="86" fill="#6feca3"/><text transform="scale(1.14,1)"><tspan x="0" y="-22.7">entropy = 0.75</tspan><tspan x="0" dy="18.7">samples = 42</tspan><tspan x="0" dy="18.7">value = [0, 33, 9]</tspan><tspan x="0" dy="18.7">class = 1</tspan></text></g>
<g id="n82" class="n" transform="translate(4950,960)"><rect x="-84" y="-43" width="168" height="86" fill="#ddfbe9"/><text transform="scale(1.14,1)"><tspan x="0" y="-22.7">entropy = 1.219</tspan><tspan x="0" dy="18.7">samples = 192</tspan><tspan x="0" dy="18.7">value = [9, 101, 82]</tspan><tspan x="0" dy="18.7">class = 1</tspan></text></g>
<g id="n83" class="n" transform="translate(5134,960)"><rect x="-75" y="-43" width="150" height="86" fill="#82efaf"/><text transform="scale(1.14,1)"><tspan x="0" y="-22.7">entropy = 0.84</tspan><tspan x="0" dy="18.7">samples = 26</tspan><tspan x="0" dy="18.7">value = [0, 19, 7]</tspan><tspan x="0" dy="18.7">class = 1</tspan></text></g>
<g id="n84" class="n" transform="translate(5318,960)"><rect x="-84" y="-43" width="168" height="86" fill="#dac5f7"/><text transform="scale(1.14,1)"><tspan x="0" y="-22.7">entropy = 1.474</tspan><tspan x="0" dy="18.7">samples = 158</tspan><tspan x="0" dy="18.7">value = [30, 48, 80]</tspan><tspan x="0" dy="18.7">class = 2</tspan></text></g>
<g id="n85" class="n" transform="translate(5506,960)"><rect x="-79.5" y="-43" width="159" height="86" fill="#7feead"/><text transform="scale(1.14,1)"><tspan x="0" y="-22.7">entropy = 0.827</tspan><tspan x="0" dy="18.7">samples = 50</tspan><tspan x="0" dy="18.7">value = [0, 37, 13]</tspan><tspan x="0" dy="18.7">class = 1</tspan></text></g>
<g id="n86" class="n" transform="translate(5681,960)"><rect x="-70" y="-43" width="140" height="86" class="p"/><text transform="scale(1.14,1)"><tspan x="0" y="-22.7">entropy = 0.0</tspan><tspan x="0" dy="18.7">samples = 3</tspan><tspan x="0" dy="18.7">value = [0, 0, 3]</tspan><tspan x="0" dy="18.7">class = 2</tspan></text></g>
<g id="n87" class="n" transform="translate(5850,960)"><rect x="-75" y="-43" width="150" height="86" class="g"/><text transform="scale(1.14,1)"><tspan x="0" y="-22.7">entropy = 0.0</tspan><tspan x="0" dy="18.7">samples = 40</tspan><tspan x="0" dy="18.7">value = [0, 40, 0]</tspan><tspan x="0" dy="18.7">class = 1</tspan></text></g>
<g id="n88" class="n" transform="translate(6019,960)"><rect x="-70" y="-43" width="140" height="86" fill="#c09cf2"/><text transform="scale(1.14,1)"><tspan x="0" y="-22.7">entropy = 0.918</tspan><tspan x="0" dy="18.7">samples = 3</tspan><tspan x="0" dy="18.7">value = [0, 1, 2]</tspan><tspan x="0" dy="18.7">class = 2</tspan></text></g>
</svg>
